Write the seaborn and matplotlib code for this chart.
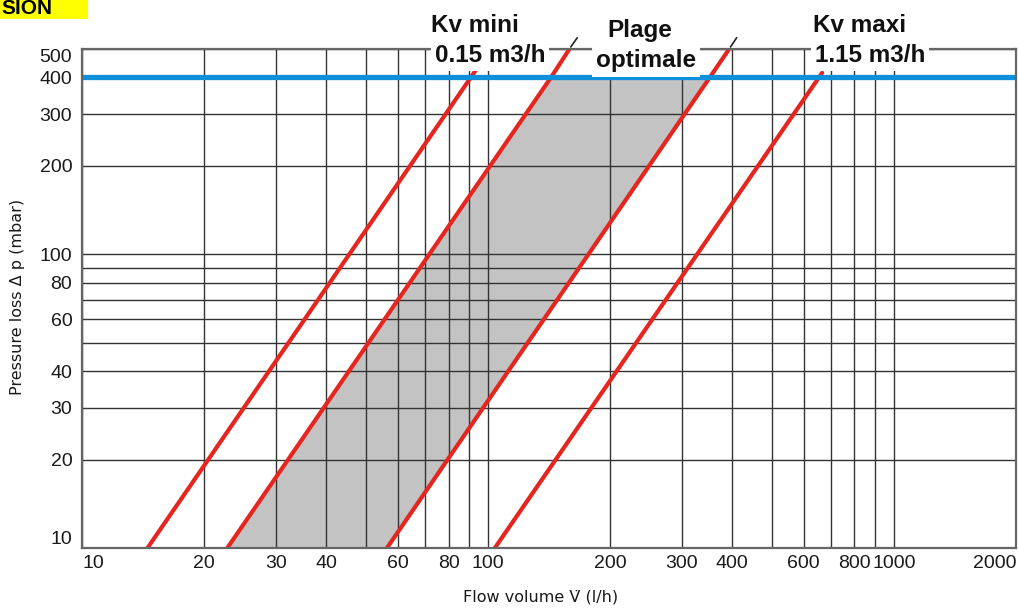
import matplotlib
matplotlib.use("Agg")
import matplotlib.pyplot as plt
import matplotlib.ticker as mticker
from matplotlib.patches import Rectangle
import seaborn as sns
import pandas as pd

# ---- data ----
flow_kv_mini = [14.5, 94.5]
dp_kv_mini = [10, 434]
flow_opt_low = [22.8, 143.0, 160.0]
dp_opt_low = [10, 400, 508]
flow_opt_high = [56.4, 352.0, 396.0]
dp_opt_high = [10, 400, 508]
flow_kv_maxi = [104.0, 666.0]
dp_kv_maxi = [10, 415]
flow_tip_low = [160.0, 166.0]
flow_tip_high = [396.0, 410.0]
dp_tip = [508, 546]
dp_limit = 400

x_major = [10, 20, 30, 40, 60, 80, 100, 200, 300, 400, 600, 800, 1000, 2000]
x_minor = [50, 70, 90, 500, 700, 900]
y_major = [10, 20, 30, 40, 60, 80, 100, 200, 300, 400, 500]
y_minor = [50, 70, 90]

sns.set_style("white")
plt.rcParams["font.family"] = ["Liberation Sans", "DejaVu Sans"]

RED = "#e5251f"
BLUE = "#0d8fd9"

fig = plt.figure(figsize=(10.18, 6.10), dpi=100)
ax = fig.add_axes([82 / 1018, 1 - 548 / 610, (1016 - 82) / 1018, (548 - 49) / 610])
ax.set_xscale("log")
ax.set_yscale("log")

# optimal range fill
ax.fill([flow_opt_low[0], flow_opt_low[1], flow_opt_high[1], flow_opt_high[0]],
        [dp_opt_low[0], dp_opt_low[1], dp_opt_high[1], dp_opt_high[0]],
        color="#c3c3c3", lw=0, zorder=1)

df = pd.concat([
    pd.DataFrame({"flow": flow_kv_mini, "dp": dp_kv_mini, "line": "kv_mini"}),
    pd.DataFrame({"flow": flow_opt_low, "dp": dp_opt_low, "line": "opt_low"}),
    pd.DataFrame({"flow": flow_opt_high, "dp": dp_opt_high, "line": "opt_high"}),
    pd.DataFrame({"flow": flow_kv_maxi, "dp": dp_kv_maxi, "line": "kv_maxi"}),
])
sns.lineplot(data=df, x="flow", y="dp", hue="line", units="line", estimator=None,
             sort=False, palette=[RED] * 4, lw=3.0, legend=False, ax=ax, zorder=3)

for tip in (flow_tip_low, flow_tip_high):
    ax.plot(tip, dp_tip, color="#222222", lw=1.2, clip_on=False, zorder=3)

ax.axhline(dp_limit, color=BLUE, lw=3.8, zorder=4)

ax.set_xlim(10, 2000)
ax.set_ylim(10, 500)

ax.set_xticks(x_major, labels=[str(v) for v in x_major])
ax.set_xticks(x_minor, minor=True)
ax.set_yticks(y_major, labels=[str(v) for v in y_major])
ax.set_yticks(y_minor, minor=True)
ax.xaxis.set_minor_formatter(mticker.NullFormatter())
ax.yaxis.set_minor_formatter(mticker.NullFormatter())
ax.tick_params(which="both", length=0, labelsize=14, colors="#1a1a1a")
ax.tick_params(axis="y", pad=7)
ax.tick_params(axis="x", pad=5)
ax.grid(True, which="both", color="#333333", lw=1.0)
ax.set_axisbelow("line")
for s in ax.spines.values():
    s.set_color("#666666")
    s.set_linewidth(1.6)
    s.set_zorder(5)

xl = ax.get_xticklabels()
xl[0].set_ha("left")
xl[-1].set_ha("right")
yl = ax.get_yticklabels()
yl[0].set_va("bottom")
yl[-1].set_va("top")

ax.set_xlabel("")
ax.set_ylabel("")
fig.text(541 / 1018, 1 - 597 / 610, "Flow volume V\u0307 (l/h)",
         ha="center", va="center", fontsize=11.5, color="#1a1a1a", family="DejaVu Sans")
fig.text(18 / 1018, 1 - 297 / 610, "Pressure loss Δ p (mbar)", rotation=90,
         ha="center", va="center", fontsize=11.5, color="#1a1a1a", family="DejaVu Sans")

box = dict(fc="white", ec="none", pad=3)
hdr = dict(ha="center", va="center", fontsize=17.5, fontweight="bold", color="#111111")
fig.text(475 / 1018, 1 - 26 / 610, "Kv mini", **hdr)
fig.text(490 / 1018, 1 - 55 / 610, "0.15 m3/h", bbox=box, zorder=6, **hdr)
fig.text(640 / 1018, 1 - 31 / 610, "Plage", **hdr)
fig.text(646 / 1018, 1 - 61 / 610, "optimale", bbox=box, zorder=6, **hdr)
fig.text(860 / 1018, 1 - 26 / 610, "Kv maxi", **hdr)
fig.text(870 / 1018, 1 - 55 / 610, "1.15 m3/h", bbox=box, zorder=6, **hdr)

fig.patches.append(Rectangle((0, 1 - 19 / 610), 88 / 1018, 19 / 610,
                             transform=fig.transFigure, fc="#ffff00", ec="none", zorder=0))
fig.text(1 / 1018, 1 - 14 / 610, "SION", ha="left", va="baseline", fontsize=15,
         fontweight="bold", color="black")

fig.savefig("out.png", dpi=100)
